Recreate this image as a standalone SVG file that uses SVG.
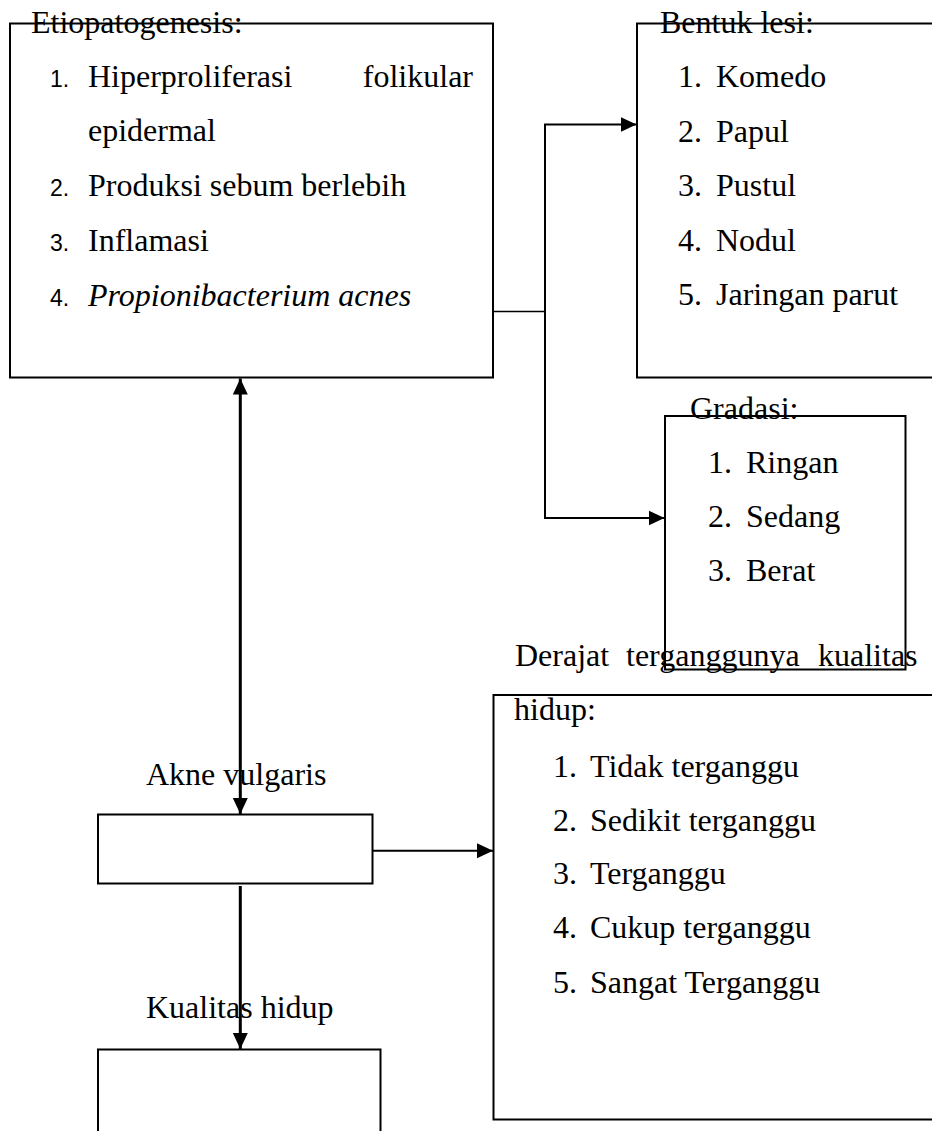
<svg xmlns="http://www.w3.org/2000/svg" width="932" height="1131" viewBox="0 0 932 1131">
<style>
.box{fill:#fff;stroke:#000;stroke-width:2}
.t{font-family:"Liberation Serif","Times New Roman",serif;font-size:32px;fill:#000}
.num{font-family:"Liberation Sans",Arial,sans-serif;font-size:23px;fill:#000}
.i{font-style:italic}
.c{fill:none;stroke:#000}
</style>
<defs>
<marker id="ah" markerUnits="userSpaceOnUse" markerWidth="16" markerHeight="16" viewBox="0 0 16 16" refX="16" refY="8" orient="auto-start-reverse">
<path d="M0,0.5 L16,8 L0,15.5 z" fill="#000"/>
</marker>
</defs>
<rect width="932" height="1131" fill="#fff"/>
<g id="etiopatogenesis">
<rect class="box" x="10" y="23.5" width="483" height="354"/>
<text class="t" x="31" y="33">Etiopatogenesis:</text>
<text class="num" x="50" y="87" style="font-size:23px">1.</text>
<text class="t" x="88" y="87">Hiperproliferasi</text>
<text class="t" x="473" y="87" text-anchor="end">folikular</text>
<text class="t" x="88" y="141">epidermal</text>
<text class="num" x="50" y="196" style="font-size:23px">2.</text>
<text class="t" x="88" y="196">Produksi sebum berlebih</text>
<text class="num" x="50" y="251" style="font-size:23px">3.</text>
<text class="t" x="88" y="251">Inflamasi</text>
<text class="num" x="50" y="306" style="font-size:23px">4.</text>
<text class="t i" x="88" y="306">Propionibacterium acnes</text>
</g>
<g id="bentuk-lesi">
<rect class="box" x="637" y="23.5" width="320" height="354"/>
<text class="t" x="660" y="33">Bentuk lesi:</text>
<text class="t" x="678" y="87">1.</text><text class="t" x="716" y="87">Komedo</text>
<text class="t" x="678" y="141.5">2.</text><text class="t" x="716" y="141.5">Papul</text>
<text class="t" x="678" y="196">3.</text><text class="t" x="716" y="196">Pustul</text>
<text class="t" x="678" y="250.5">4.</text><text class="t" x="716" y="250.5">Nodul</text>
<text class="t" x="678" y="305">5.</text><text class="t" x="716" y="305">Jaringan parut</text>
</g>
<g id="gradasi">
<rect class="box" x="665" y="416" width="240.5" height="253.5"/>
<text class="t" x="690" y="419">Gradasi:</text>
<text class="t" x="708" y="473">1.</text><text class="t" x="746" y="473">Ringan</text>
<text class="t" x="708" y="527">2.</text><text class="t" x="746" y="527">Sedang</text>
<text class="t" x="708" y="580.5">3.</text><text class="t" x="746" y="580.5">Berat</text>
</g>
<g id="derajat">
<rect class="box" x="493.5" y="695" width="460" height="424.5"/>
<text class="t" y="665.5"><tspan x="515">Derajat</tspan><tspan x="626">terganggunya</tspan><tspan x="818">kualitas</tspan></text>
<text class="t" x="514" y="720">hidup:</text>
<text class="t" x="553" y="777">1.</text><text class="t" x="590" y="777">Tidak terganggu</text>
<text class="t" x="553" y="830.5">2.</text><text class="t" x="590" y="830.5">Sedikit terganggu</text>
<text class="t" x="553" y="884">3.</text><text class="t" x="590" y="884">Terganggu</text>
<text class="t" x="553" y="938">4.</text><text class="t" x="590" y="938">Cukup terganggu</text>
<text class="t" x="553" y="993">5.</text><text class="t" x="590" y="993">Sangat Terganggu</text>
</g>
<g id="akne-vulgaris">
<rect class="box" x="98" y="814.5" width="274.5" height="69"/>
<text class="t" x="146" y="785">Akne vulgaris</text>
</g>
<g id="kualitas-hidup">
<rect class="box" x="98" y="1049.5" width="282.5" height="100"/>
<text class="t" x="146" y="1018">Kualitas hidup</text>
</g>
<g id="connectors">
<path class="c" stroke-width="1.3" d="M494,311.5 H545"/>
<path class="c" stroke-width="2" d="M545,124.5 V518"/>
<path class="c" stroke-width="2" d="M544,124.5 H636.5" marker-end="url(#ah)"/>
<path class="c" stroke-width="2" d="M544,518 H664.5" marker-end="url(#ah)"/>
<path class="c" stroke-width="3" d="M240.3,378.5 V814" marker-start="url(#ah)" marker-end="url(#ah)"/>
<path class="c" stroke-width="2" d="M373,850.7 H493" marker-end="url(#ah)"/>
<path class="c" stroke-width="3" d="M240.3,886 V1049" marker-end="url(#ah)"/>
</g>
</svg>
